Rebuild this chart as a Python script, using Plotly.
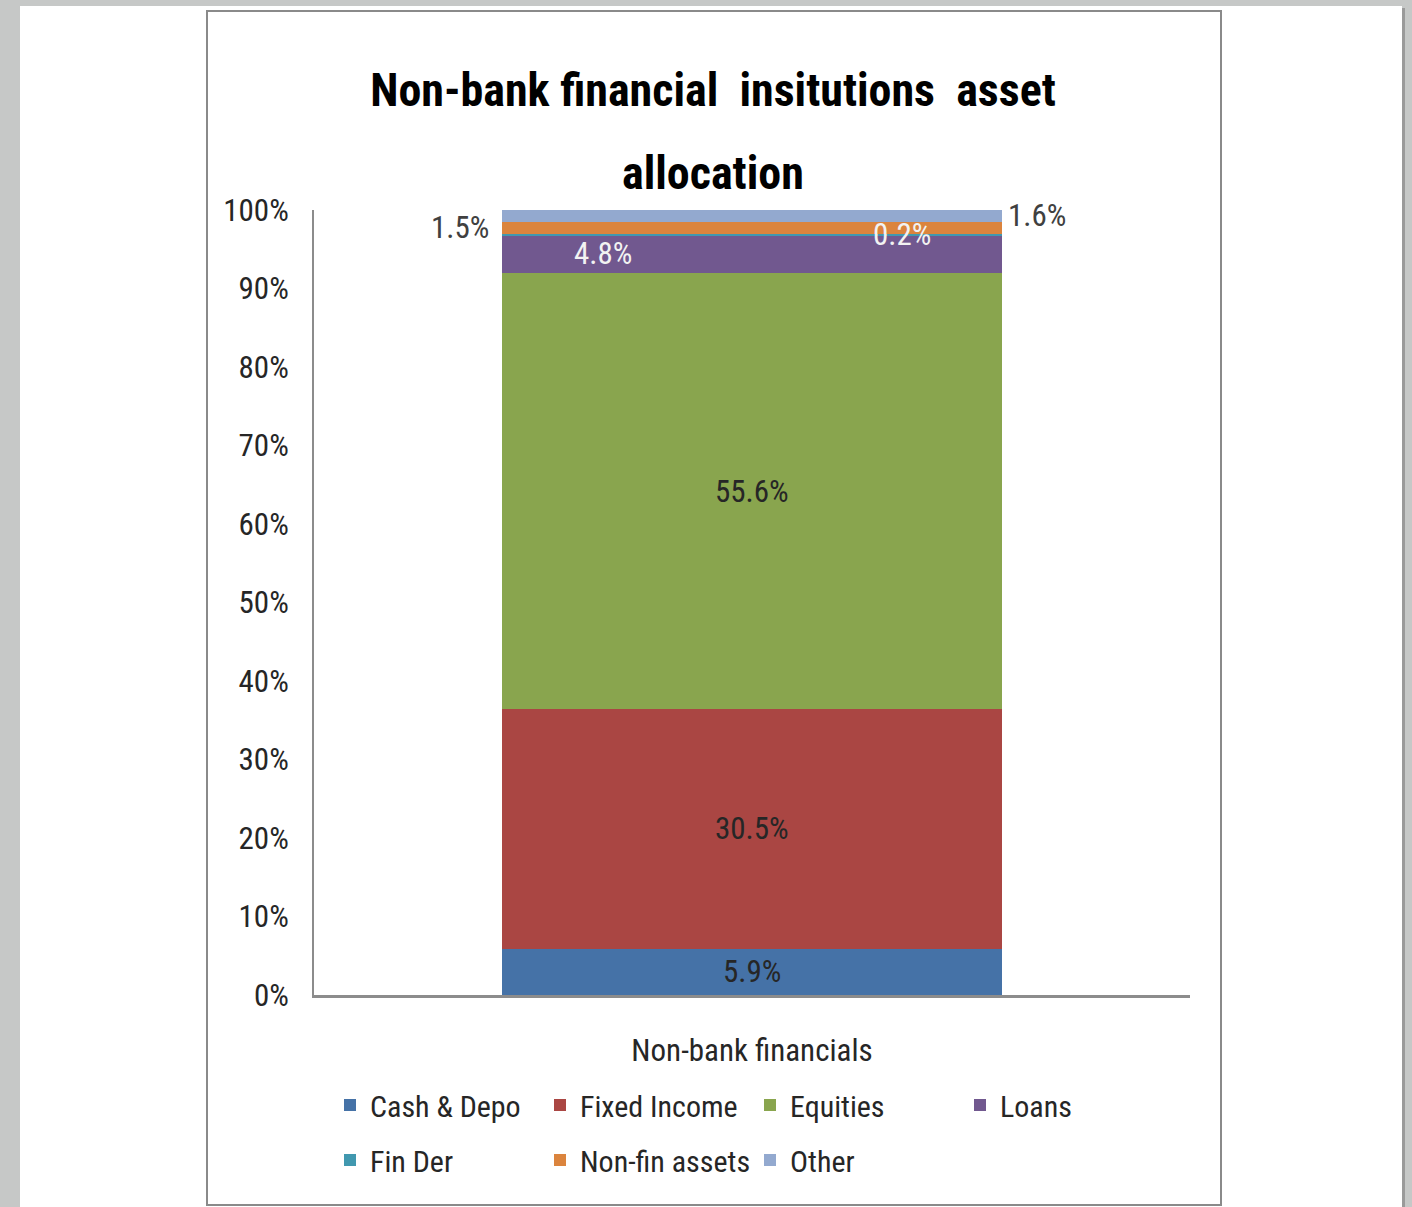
import plotly.graph_objects as go

# ---- data -------------------------------------------------------------
categories = ["Non-bank financials"]
series_names = ["Cash & Depo", "Fixed Income", "Equities", "Loans",
                "Fin Der", "Non-fin assets", "Other"]
series_values = [5.9, 30.5, 55.6, 4.8, 0.2, 1.5, 1.6]
series_colors = ["#4572A7", "#AA4643", "#89A54E", "#71588F",
                 "#4198AF", "#DB843D", "#93A9CF"]
y_tick_values = [0, 10, 20, 30, 40, 50, 60, 70, 80, 90, 100]
y_tick_labels = ["0%", "10%", "20%", "30%", "40%", "50%",
                 "60%", "70%", "80%", "90%", "100%"]
title_lines = ["Non-bank financial\u00a0 insitutions\u00a0 asset", "allocation"]

# label placement for each segment: horizontal offset (category units), colour
label_offsets = [0.0, 0.0, 0.0, -0.17, 0.171, -0.333, 0.325]
label_colors = ["#262626", "#262626", "#262626", "#F2F2F2",
                "#F2F2F2", "#404040", "#404040"]

FONT = "Liberation Sans Narrow, Arial Narrow, Roboto Condensed, DejaVu Sans Condensed, sans-serif"

W, H = 1412, 1207
L, R, T, B = 314, 1190, 210, 995   # plot-area pixel box


def px_x(p):
    return (p - L) / (R - L)


def px_y(p):
    return (B - p) / (B - T)


fig = go.Figure()

row_one = 4
for i, (name, val, col) in enumerate(zip(series_names, series_values, series_colors)):
    fig.add_trace(go.Bar(
        x=categories, y=[val], name=name,
        marker=dict(color=col, line=dict(width=0)),
        width=0.571,
        legend="legend" if i < row_one else "legend2",
        hoverinfo="skip",
    ))

# segment value labels
base = 0.0
for val, dx, col in zip(series_values, label_offsets, label_colors):
    fig.add_annotation(
        x=dx, y=base + val / 2, xref="x", yref="y",
        text=f"{val:.1f}%", showarrow=False,
        font=dict(family=FONT, size=31, color=col),
        xanchor="center", yanchor="middle",
    )
    base += val

# second title line
fig.add_annotation(
    x=px_x(713), y=px_y(173), xref="paper", yref="paper",
    text=f"<b>{title_lines[1]}</b>", showarrow=False,
    font=dict(family=FONT, size=46, color="#000000"),
    xanchor="center", yanchor="middle",
)

# page and chart frame
fig.add_shape(type="rect", xref="paper", yref="paper", layer="below",
              x0=px_x(20), x1=px_x(1402), y0=px_y(1215), y1=px_y(6),
              fillcolor="#FFFFFF", line=dict(width=0))
fig.add_shape(type="line", xref="paper", yref="paper", layer="below",
              x0=px_x(1403.5), x1=px_x(1403.5), y0=px_y(1215), y1=px_y(8),
              line=dict(color="#9A9A9A", width=3))
fig.add_shape(type="rect", xref="paper", yref="paper", layer="below",
              x0=px_x(207), x1=px_x(1221), y0=px_y(1205), y1=px_y(11),
              fillcolor="rgba(0,0,0,0)", line=dict(color="#8A8A8A", width=2))

legend_common = dict(
    orientation="h", x=px_x(330), xanchor="left",
    yanchor="middle",
    entrywidth=165, entrywidthmode="pixels",
    font=dict(family=FONT, size=30, color="#262626"),
    bgcolor="rgba(0,0,0,0)", traceorder="normal",
)

fig.update_layout(
    width=W, height=H,
    margin=dict(l=L, r=W - R, t=T, b=H - B, pad=0),
    paper_bgcolor="#C6C8C7",
    plot_bgcolor="rgba(0,0,0,0)",
    barmode="stack",
    bargap=0,
    showlegend=True,
    title=dict(
        text=f"<b>{title_lines[0]}</b>",
        x=713 / W, xanchor="center", xref="container",
        y=1 - 90 / H, yanchor="middle", yref="container",
        font=dict(family=FONT, size=46, color="#000000"),
    ),
    xaxis=dict(
        type="category", range=[-0.5, 0.5],
        showline=True, linecolor="#8C8C8C", linewidth=3,
        showgrid=False, zeroline=False, ticks="",
        ticklabelstandoff=26,
        tickfont=dict(family=FONT, size=31, color="#262626"),
    ),
    yaxis=dict(
        range=[0, 100], tickvals=y_tick_values, ticktext=y_tick_labels,
        showline=True, linecolor="#8C8C8C", linewidth=2,
        showgrid=False, zeroline=False, ticks="",
        ticklabelstandoff=17,
        tickfont=dict(family=FONT, size=31, color="#262626"),
    ),
    legend=dict(legend_common, y=px_y(1105)),
    legend2=dict(legend_common, y=px_y(1160)),
)

fig.write_html("out.html")
